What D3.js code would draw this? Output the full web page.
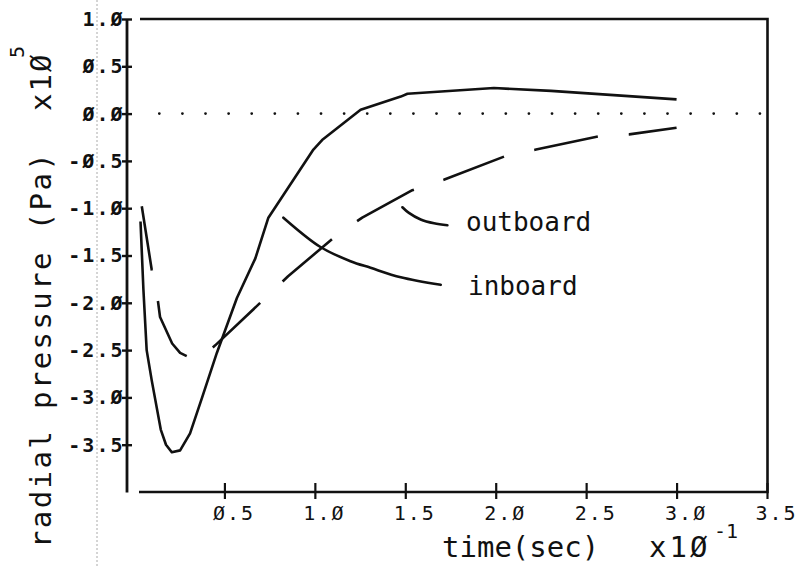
<!DOCTYPE html>
<html>
<head>
<meta charset="utf-8">
<script src="https://cdn.jsdelivr.net/npm/d3@7"></script>
<style>
  html, body { margin: 0; padding: 0; background: #fff; }
  svg { display: block; }
  .mono { font-family: "DejaVu Sans Mono", monospace; fill: #111; }
</style>
</head>
<body>
<svg id="chart" width="798" height="571"></svg>
<script>
// time is in units of 0.1 s, pressure in units of 1e5 Pa
const inboardTime = [0.036, 0.052, 0.070, 0.098, 0.148, 0.177, 0.209, 0.255, 0.310, 0.375, 0.458, 0.504,
    0.569, 0.671, 0.743, 0.826, 0.992, 1.040, 1.253, 1.475, 1.512, 1.990, 2.306, 3.0];
const inboardPressure = [-1.14, -1.86, -2.50, -2.82, -3.34, -3.50, -3.58, -3.56, -3.38, -3.01, -2.53, -2.29,
    -1.95, -1.53, -1.10, -0.86, -0.38, -0.28, 0.04, 0.18, 0.21, 0.27, 0.24, 0.15];

const outboardTime = [0.043, 0.098, 0.133, 0.144, 0.211, 0.255, 0.299, 0.355, 0.449, 0.726, 0.852, 1.124,
    1.262, 1.539, 1.713, 2.066, 2.223, 2.572, 2.738, 3.0];
const outboardPressure = [-0.98, -1.65, -1.99, -2.15, -2.43, -2.53, -2.57, -2.60, -2.45, -1.95, -1.72, -1.28,
    -1.10, -0.81, -0.70, -0.44, -0.38, -0.24, -0.22, -0.15];

// hand drawn leader lines from the labels to the curves
const inboardLeaderTime = [0.826, 1.031, 1.197, 1.308, 1.475, 1.696];
const inboardLeaderPressure = [-1.10, -1.41, -1.56, -1.63, -1.73, -1.81];
const outboardLeaderTime = [1.484, 1.520, 1.585, 1.659, 1.733];
const outboardLeaderPressure = [-0.99, -1.05, -1.12, -1.16, -1.18];

const xTicks = [0.5, 1.0, 1.5, 2.0, 2.5, 3.0, 3.5];
const yTicks = [1.0, 0.5, 0.0, -0.5, -1.0, -1.5, -2.0, -2.5, -3.0, -3.5];

const svg = d3.select("#chart");

const x = d3.scaleLinear().domain([0, 3.5]).range([134, 767]);
const y = d3.scaleLinear().domain([-4, 1]).range([492, 19]);

// plotter style numbers: slashed zeros and a plain hyphen
const plotFmt = d => d3.format(".1f")(d).replace("\u2212", "-").replace(/0/g, "\u00d8");

// faint fold line of the scanned page
svg.append("line")
    .attr("x1", 97).attr("x2", 97).attr("y1", 0).attr("y2", 566)
    .attr("stroke", "#aaa").attr("stroke-width", 1)
    .attr("stroke-dasharray", "2 2");

// frame (top, right, bottom), left axis drawn by d3
svg.append("path")
    .attr("d", `M140,19H767.5V492H139`)
    .attr("fill", "none").attr("stroke", "#111").attr("stroke-width", 2.6);

const yAxis = svg.append("g")
    .attr("transform", "translate(126.5,0)")
    .call(d3.axisLeft(y).tickValues(yTicks).tickFormat(plotFmt).tickSize(4.5).tickSizeOuter(0));
yAxis.select(".domain").attr("stroke", "#111").attr("stroke-width", 2.8);
yAxis.selectAll(".tick line").attr("x1", 5.5).attr("stroke", "#111").attr("stroke-width", 2.4);
yAxis.selectAll(".tick text")
    .attr("class", "mono")
    .attr("x", -2)
    .style("font-size", "20px").style("font-weight", "bold").style("letter-spacing", "2px");

const xAxis = svg.append("g")
    .attr("transform", "translate(0,492)")
    .call(d3.axisBottom(x).tickValues(xTicks).tickFormat(plotFmt).tickSize(7).tickSizeOuter(0));
xAxis.select(".domain").remove();
xAxis.selectAll(".tick line").attr("y1", -9).attr("stroke", "#111").attr("stroke-width", 2.2);
xAxis.selectAll(".tick text")
    .attr("class", "mono")
    .attr("text-anchor", "start")
    .attr("x", -12).attr("y", 28).attr("dy", null)
    .style("font-size", "20px").style("letter-spacing", "2px");
svg.selectAll(".tick text").attr("fill", null);
svg.selectAll("g").attr("font-family", null).attr("font-size", null);

// zero reference, dotted
svg.append("line")
    .attr("x1", x(0.14)).attr("x2", x(3.47))
    .attr("y1", y(0)).attr("y2", y(0))
    .attr("stroke", "#111").attr("stroke-width", 2.8)
    .attr("stroke-linecap", "round").attr("stroke-dasharray", "0 23.1");

const line = d3.line().x(d => x(d[0])).y(d => y(d[1]));
const zipPts = (ts, ps) => ts.map((t, i) => [t, ps[i]]);

// inboard: solid
svg.append("path")
    .datum(zipPts(inboardTime, inboardPressure))
    .attr("d", line)
    .attr("fill", "none").attr("stroke", "#111").attr("stroke-width", 2.6)
    .attr("stroke-linejoin", "round");

// outboard: long dashes
svg.append("path")
    .datum(zipPts(outboardTime, outboardPressure))
    .attr("d", line)
    .attr("fill", "none").attr("stroke", "#111").attr("stroke-width", 2.6)
    .attr("stroke-linejoin", "round").attr("stroke-dasharray", "65 31");

// leader lines
[[inboardLeaderTime, inboardLeaderPressure], [outboardLeaderTime, outboardLeaderPressure]].forEach(([ts, ps]) => {
    svg.append("path")
        .datum(zipPts(ts, ps))
        .attr("d", line.curve(d3.curveCatmullRom))
        .attr("fill", "none").attr("stroke", "#111").attr("stroke-width", 2.6)
        .attr("stroke-linecap", "round");
});

svg.append("text").attr("class", "mono")
    .attr("x", 466).attr("y", 231).style("font-size", "26px")
    .text("outboard");
svg.append("text").attr("class", "mono")
    .attr("x", 468).attr("y", 295).style("font-size", "26px")
    .text("inboard");

// x axis title
svg.append("text").attr("class", "mono")
    .attr("x", 442).attr("y", 557).style("font-size", "29px")
    .text("time(sec)");
svg.append("text").attr("class", "mono")
    .attr("x", 649).attr("y", 557).style("font-size", "29px").style("letter-spacing", "3px")
    .text("x1\u00d8");
svg.append("text").attr("class", "mono")
    .attr("x", 714).attr("y", 538).style("font-size", "20px")
    .text("-1");

// y axis title, rotated
svg.append("text").attr("class", "mono")
    .attr("transform", "translate(51,548) rotate(-90)")
    .style("font-size", "29px").style("letter-spacing", "2.4px")
    .text("radial pressure (Pa)");
svg.append("text").attr("class", "mono")
    .attr("transform", "translate(51,111) rotate(-90)")
    .style("font-size", "29px").style("letter-spacing", "2px")
    .text("x1\u00d8");
svg.append("text").attr("class", "mono")
    .attr("transform", "translate(24,58) rotate(-90)")
    .style("font-size", "20px")
    .text("5");
</script>
</body>
</html>
